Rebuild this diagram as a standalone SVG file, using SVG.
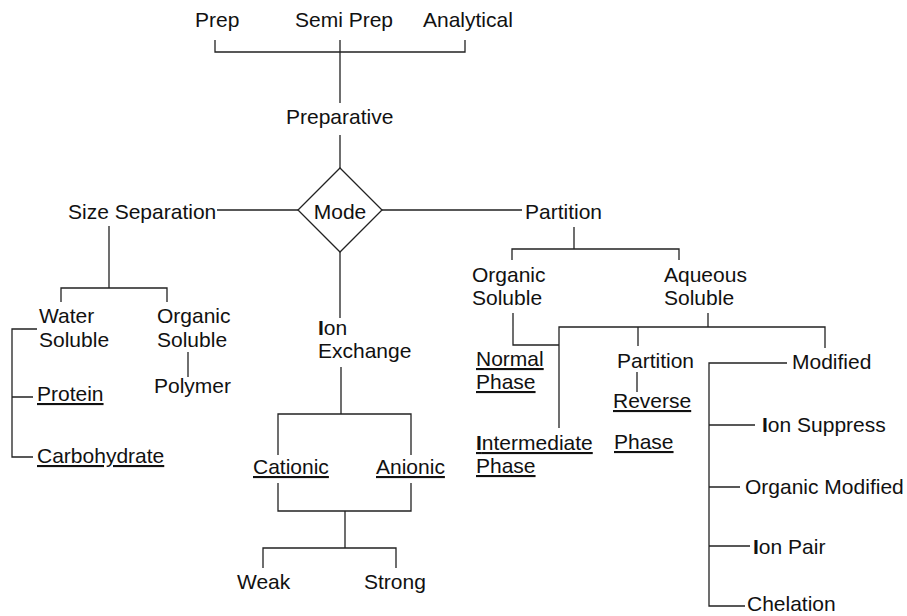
<svg xmlns="http://www.w3.org/2000/svg" width="907" height="616" viewBox="0 0 907 616">
<style>
text{font-family:"Liberation Sans",Arial,Helvetica,sans-serif;font-size:21px;fill:#111}
.u{text-decoration:underline}
.b{font-weight:bold}
.c path,.c line{fill:none;stroke:#222;stroke-width:1.3}
.n polygon{fill:#fff;stroke:#222;stroke-width:1.3}
</style>
<rect width="907" height="616" fill="#fff"/>
<g class="c" id="connectors">
<path d="M215,40V52H465V40M340,40V103M340,135V168"/>
<path d="M217,210H298M382,210H522"/>
<path d="M109,226V288M61,302V288H167V302"/>
<path d="M37,329H12V457H33M12,397H33"/>
<path d="M188,352V377"/>
<path d="M340,252V318M341,367V414M278,455V414H411V455M278,483V511H411V483M345,511V548M263,568V548H396V568"/>
<path d="M574,227V249M512,260V249H679V260"/>
<path d="M513,313V345H559M559,428V327H825V348M708,313V327M638,327V346M637,372V392"/>
<path d="M787,363H709V606H745M709,425H755M709,487H740M709,546H750"/>
</g>
<g id="prep"><text x="195" y="27">Prep</text></g>
<g id="semiprep"><text x="295" y="27">Semi Prep</text></g>
<g id="analytical"><text x="423" y="27">Analytical</text></g>
<g id="preparative"><text x="286" y="124">Preparative</text></g>
<g id="mode" class="n"><polygon points="340,168 382,210 340,252 298,210"/><text x="340" y="219" text-anchor="middle">Mode</text></g>
<g id="size"><text x="68" y="219">Size Separation</text></g>
<g id="partition"><text x="525" y="219">Partition</text></g>
<g id="water"><text x="39" y="323">Water</text><text x="39" y="347">Soluble</text></g>
<g id="organic-left"><text x="157" y="323">Organic</text><text x="157" y="347">Soluble</text></g>
<g id="polymer"><text x="154" y="393">Polymer</text></g>
<g id="protein"><text class="u" x="37" y="401">Protein</text></g>
<g id="carbohydrate"><text class="u" x="37" y="463">Carbohydrate</text></g>
<g id="ionexchange"><text x="318" y="335"><tspan class="b">I</tspan>on</text><text x="318" y="358">Exchange</text></g>
<g id="cationic"><text class="u" x="253" y="474">Cationic</text></g>
<g id="anionic"><text class="u" x="376" y="474">Anionic</text></g>
<g id="weak"><text x="237" y="589">Weak</text></g>
<g id="strong"><text x="364" y="589">Strong</text></g>
<g id="organic-right"><text x="472" y="282">Organic</text><text x="472" y="305">Soluble</text></g>
<g id="aqueous"><text x="664" y="282">Aqueous</text><text x="664" y="305">Soluble</text></g>
<g id="normal"><text class="u" x="476" y="366">Normal</text><text class="u" x="476" y="389">Phase</text></g>
<g id="intermediate"><text class="u" x="476" y="450"><tspan class="b">I</tspan>ntermediate</text><text class="u" x="476" y="473">Phase</text></g>
<g id="partition2"><text x="617" y="368">Partition</text></g>
<g id="reverse"><text class="u" x="613" y="408">Reverse</text><text class="u" x="614" y="449">Phase</text></g>
<g id="modified"><text x="792" y="369">Modified</text></g>
<g id="ionsuppress"><text x="762" y="432"><tspan class="b">I</tspan>on Suppress</text></g>
<g id="organicmodified"><text x="745" y="494">Organic Modified</text></g>
<g id="ionpair"><text x="753" y="554"><tspan class="b">I</tspan>on Pair</text></g>
<g id="chelation"><text x="747" y="611">Chelation</text></g>
</svg>
